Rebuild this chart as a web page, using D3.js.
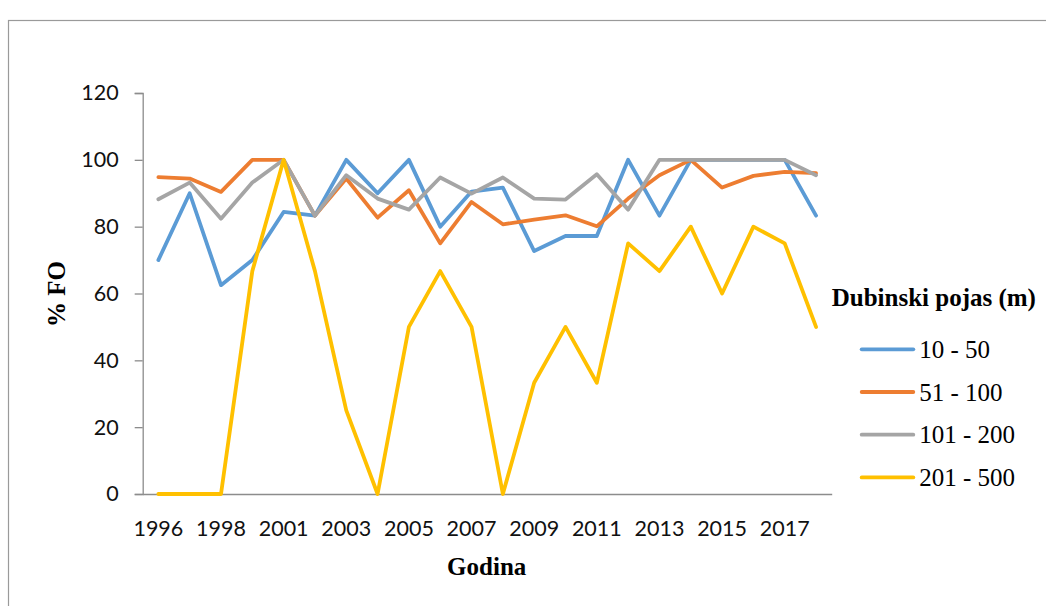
<!DOCTYPE html>
<html>
<head>
<meta charset="utf-8">
<script src="https://cdn.jsdelivr.net/npm/d3@7"></script>
<style>
  html, body { margin: 0; padding: 0; background: #fff; }
  svg { display: block; }
</style>
</head>
<body>
<svg id="chart" width="1046" height="606"></svg>
<script>
const categories = ["1996","1997","1998","1999","2001","2002","2003","2004","2005","2006","2007","2008","2009","2010","2011","2012","2013","2014","2015","2016","2017","2018"];
const tickLabels = ["1996","1998","2001","2003","2005","2007","2009","2011","2013","2015","2017"];
const yTicks = [0, 20, 40, 60, 80, 100, 120];

const seriesNames = ["10 - 50", "51 - 100", "101 - 200", "201 - 500"];
const s10_50   = [70, 90, 62.5, 70, 84.4, 83.3, 100, 90, 100, 80, 90.5, 91.7, 72.7, 77.2, 77.2, 100, 83.3, 100, 100, 100, 100, 83.3];
const s51_100  = [94.8, 94.4, 90.4, 100, 100, 83.3, 94.4, 82.7, 90.9, 75, 87.4, 80.7, 82.1, 83.4, 80.1, 88.4, 95.4, 100, 91.7, 95.2, 96.4, 96];
const s101_200 = [88.2, 93.2, 82.4, 93.2, 100, 83.3, 95.4, 88.4, 85.1, 94.7, 89.9, 94.7, 88.4, 88.1, 95.7, 85.1, 100, 100, 100, 100, 100, 95.4];
const s201_500 = [0, 0, 0, 66.7, 100, 66.7, 25, 0, 50, 66.7, 50, 0, 33.3, 50, 33.3, 75, 66.7, 80, 60, 80, 75, 50];
const colors = ["#5B9BD5", "#ED7D31", "#A5A5A5", "#FFC000"];

const seriesValues = [s10_50, s51_100, s101_200, s201_500];

const svg = d3.select("#chart");

// outer frame
svg.append("rect")
  .attr("x", 8.5).attr("y", 20.5)
  .attr("width", 1200).attr("height", 700)
  .attr("fill", "none").attr("stroke", "#9a9a9a").attr("stroke-width", 1.2);

const x = d3.scaleBand().domain(categories).range([142.7, 831.7]).padding(0);
const y = d3.scaleLinear().domain([0, 120]).range([494, 93]);
const cx = d => x(d) + x.bandwidth() / 2;

// Y axis
const yAxis = svg.append("g")
  .attr("transform", "translate(142.7,0)")
  .call(d3.axisLeft(y).tickValues(yTicks).tickSize(8).tickPadding(16).tickFormat(d3.format("d")));
yAxis.select(".domain").attr("stroke", "#8c8c8c").attr("stroke-width", 1.3);
yAxis.selectAll(".tick line").attr("stroke", "#8c8c8c").attr("stroke-width", 1.3);
yAxis.selectAll(".tick text")
  .attr("font-family", "Lato, 'Open Sans', sans-serif")
  .attr("font-size", 21.5).attr("fill", "#111");

// X axis
const xAxis = svg.append("g")
  .attr("transform", "translate(0,494)")
  .call(d3.axisBottom(x).tickValues(tickLabels).tickSize(0).tickSizeOuter(0));
xAxis.select(".domain").attr("stroke", "#8c8c8c").attr("stroke-width", 1.3);
xAxis.selectAll(".tick text")
  .attr("font-family", "Lato, 'Open Sans', sans-serif")
  .attr("font-size", 21.5).attr("fill", "#111")
  .attr("y", 42).attr("dy", 0);

// lines
const line = d3.line()
  .x((d, i) => cx(categories[i]))
  .y(d => y(d));

seriesValues.forEach((vals, k) => {
  svg.append("path")
    .datum(vals)
    .attr("d", line)
    .attr("fill", "none")
    .attr("stroke", colors[k])
    .attr("stroke-width", 3.8)
    .attr("stroke-linejoin", "round")
    .attr("stroke-linecap", "round");
});

// axis titles
svg.append("text")
  .attr("transform", "translate(65,294) rotate(-90)")
  .attr("text-anchor", "middle")
  .attr("font-family", "'Liberation Serif', 'Times New Roman', serif")
  .attr("font-weight", "bold").attr("font-size", 25)
  .text("% FO");

svg.append("text")
  .attr("x", 486.7).attr("y", 575)
  .attr("text-anchor", "middle")
  .attr("font-family", "'Liberation Serif', 'Times New Roman', serif")
  .attr("font-weight", "bold").attr("font-size", 25)
  .text("Godina");

// legend
const legend = svg.append("g");
legend.append("text")
  .attr("x", 831.7).attr("y", 306)
  .attr("font-family", "'Liberation Serif', 'Times New Roman', serif")
  .attr("font-weight", "bold").attr("font-size", 25)
  .text("Dubinski pojas (m)");

seriesNames.forEach((name, i) => {
  const ly = 349.3 + i * 42.7;
  legend.append("line")
    .attr("x1", 861.7).attr("x2", 913.3)
    .attr("y1", ly).attr("y2", ly)
    .attr("stroke", colors[i]).attr("stroke-width", 3.8)
    .attr("stroke-linecap", "round");
  legend.append("text")
    .attr("x", 919.3).attr("y", ly + 8.5)
    .attr("font-family", "'Liberation Serif', 'Times New Roman', serif")
    .attr("font-size", 25)
    .text(name);
});
</script>
</body>
</html>
